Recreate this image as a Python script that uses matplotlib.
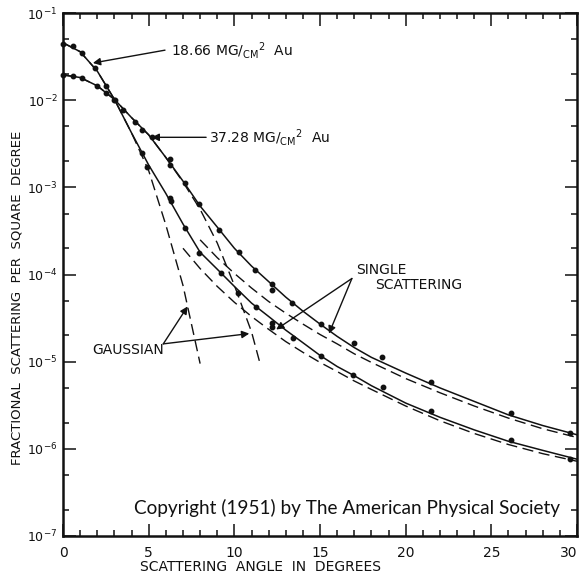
import matplotlib

matplotlib.use("Agg")
import matplotlib.pyplot as plt
from matplotlib.ticker import FixedLocator, FixedFormatter, NullFormatter

# ---- data (angle in degrees, fraction per sq. degree)
# solid curves: measured multiple-scattering distributions
angle_solid = [0, 1, 2, 3, 4, 5, 6, 7, 8, 9, 10, 11, 12, 13, 14, 15, 16, 17, 18,
               20, 22, 24, 26, 28, 30]
thin_solid = [4.55e-2, 3.6e-2, 2.15e-2, 1.02e-2, 4.2e-3, 1.8e-3, 8.5e-4, 3.8e-4,
              1.8e-4, 1.15e-4, 7.3e-5, 4.7e-5, 3.3e-5, 2.3e-5, 1.65e-5, 1.18e-5,
              8.8e-6, 6.9e-6, 5.3e-6, 3.35e-6, 2.3e-6, 1.65e-6, 1.22e-6, 9.6e-7,
              7.6e-7]
thick_solid = [1.95e-2, 1.82e-2, 1.46e-2, 1.02e-2, 6.3e-3, 4.0e-3, 2.2e-3, 1.18e-3,
               6.1e-4, 3.5e-4, 2.0e-4, 1.25e-4, 8.3e-5, 5.5e-5, 3.8e-5, 2.7e-5,
               1.95e-5, 1.45e-5, 1.12e-5, 7.4e-6, 5.0e-6, 3.5e-6, 2.45e-6,
               1.85e-6, 1.45e-6]

# dashed: gaussian cores
angle_gauss_thin = [0, 1, 2, 3, 4, 5, 6, 7, 8]
gauss_thin = [4.55e-2, 3.6e-2, 2.15e-2, 1.02e-2, 4.2e-3, 1.55e-3, 3.7e-4, 7.5e-5,
              9.5e-6]
angle_gauss_thick = [0, 1, 2, 3, 4, 5, 6, 7, 8, 9, 10, 11, 11.5]
gauss_thick = [1.95e-2, 1.82e-2, 1.46e-2, 1.02e-2, 6.3e-3, 4.0e-3, 2.2e-3, 1.15e-3,
               5.6e-4, 2.3e-4, 7.5e-5, 2.2e-5, 9.5e-6]

# dashed: single scattering tails
angle_single_thin = [7, 8, 9, 10, 11, 12, 13, 14, 15, 16, 17, 18, 20, 22, 24, 26,
                     28, 30]
single_thin = [2.0e-4, 1.17e-4, 7.3e-5, 4.8e-5, 3.3e-5, 2.35e-5, 1.7e-5, 1.28e-5,
               9.8e-6, 7.7e-6, 6.0e-6, 4.8e-6, 3.1e-6, 2.1e-6, 1.5e-6, 1.12e-6,
               8.8e-7, 7.2e-7]
angle_single_thick = [8, 9, 10, 11, 12, 13, 14, 15, 16, 17, 18, 20, 22, 24, 26,
                      28, 30]
single_thick = [2.5e-4, 1.56e-4, 1.03e-4, 7.0e-5, 4.9e-5, 3.6e-5, 2.7e-5, 2.05e-5,
                1.6e-5, 1.23e-5, 9.8e-6, 6.4e-6, 4.4e-6, 3.1e-6, 2.25e-6, 1.7e-6,
                1.35e-6]

# measured points
pts_thin_x = [0, 0.58, 1.1, 1.86, 2.5, 3.0, 4.59, 4.88, 6.22, 6.3, 7.09, 7.91,
              9.24, 10.23, 11.28, 12.21, 12.21, 13.43, 15.06, 16.92, 18.66, 21.5,
              26.16, 29.6]
pts_thin_y = [4.4e-2, 4.19e-2, 3.48e-2, 2.34e-2, 1.46e-2, 1.0e-2, 2.49e-3, 1.72e-3,
              7.6e-4, 6.9e-4, 3.44e-4, 1.78e-4, 1.05e-4, 6.2e-5, 4.2e-5, 2.81e-5,
              2.47e-5, 1.89e-5, 1.15e-5, 6.95e-6, 5.1e-6, 2.69e-6, 1.25e-6, 7.6e-7]
pts_thick_x = [0, 0.58, 1.1, 1.98, 2.5, 3.02, 3.49, 4.19, 4.59, 5.17, 6.22, 6.22,
               7.09, 7.91, 9.13, 10.29, 11.22, 12.21, 12.21, 13.37, 15.06, 16.98,
               18.6, 21.5, 26.16, 29.6]
pts_thick_y = [1.95e-2, 1.9e-2, 1.8e-2, 1.46e-2, 1.21e-2, 1.0e-2, 7.7e-3, 5.6e-3,
               4.57e-3, 3.8e-3, 2.13e-3, 1.82e-3, 1.13e-3, 6.5e-4, 3.27e-4, 1.83e-4,
               1.14e-4, 7.7e-5, 6.7e-5, 4.76e-5, 2.67e-5, 1.62e-5, 1.12e-5, 5.9e-6,
               2.55e-6, 1.51e-6]

x_ticks = [0, 5, 10, 15, 20, 25, 30]
y_ticks = [1e-7, 1e-6, 1e-5, 1e-4, 1e-3, 1e-2, 1e-1]
y_tick_labels = [r"$10^{-7}$", r"$10^{-6}$", r"$10^{-5}$", r"$10^{-4}$",
                 r"$10^{-3}$", r"$10^{-2}$", r"$10^{-1}$"]

ink = "#111111"
dash = (8, 4)

fig = plt.figure(figsize=(5.84, 5.79), dpi=100)
ax = fig.add_axes([0.108, 0.0743, 0.880, 0.9032])
ax.set_yscale("log")
ax.set_xlim(0, 30)
ax.set_ylim(1e-7, 1e-1)

ax.plot(angle_solid, thin_solid, color=ink, lw=1.1)
ax.plot(angle_solid, thick_solid, color=ink, lw=1.1)
ax.plot(angle_gauss_thin, gauss_thin, color=ink, lw=1.0, dashes=dash)
ax.plot(angle_gauss_thick, gauss_thick, color=ink, lw=1.0, dashes=dash)
ax.plot(angle_single_thin, single_thin, color=ink, lw=1.0, dashes=dash)
ax.plot(angle_single_thick, single_thick, color=ink, lw=1.0, dashes=dash)
ax.plot(pts_thin_x, pts_thin_y, "o", color=ink, ms=3.2, clip_on=False)
ax.plot(pts_thick_x, pts_thick_y, "o", color=ink, ms=3.2, clip_on=False)

# ticks
ax.xaxis.set_major_locator(FixedLocator(x_ticks))
ax.xaxis.set_minor_locator(FixedLocator(range(0, 31)))
ax.yaxis.set_major_locator(FixedLocator(y_ticks))
ax.yaxis.set_major_formatter(FixedFormatter(y_tick_labels))
minor_y = [m * 10.0 ** e for e in range(-7, -1) for m in (2, 5)]
ax.yaxis.set_minor_locator(FixedLocator(minor_y))
ax.yaxis.set_minor_formatter(NullFormatter())
ax.tick_params(which="both", direction="in", top=True, right=True,
               width=1.1, color=ink, labelcolor=ink, labelsize=10)
ax.tick_params(which="major", length=9)
ax.tick_params(which="minor", length=4)
ax.tick_params(axis="x", pad=7)
ax.tick_params(axis="y", pad=4, labelsize=9)
for sp in ax.spines.values():
    sp.set_linewidth(1.8)
    sp.set_color(ink)

# last x label sits at the figure edge; pull it inside
fig.canvas.draw()
ax.get_xticklabels()[-1].set_horizontalalignment("right")

ax.set_xlabel("SCATTERING  ANGLE  IN  DEGREES", fontsize=10, color=ink)
ax.set_ylabel("FRACTIONAL  SCATTERING  PER  SQUARE  DEGREE", fontsize=9.5,
              color=ink)
ax.xaxis.set_label_coords(0.385, -0.046)
ax.yaxis.set_label_coords(-0.077, 0.455)

# labels and arrows
arrow = dict(arrowstyle="-|>", color=ink, lw=1.0, mutation_scale=11,
             shrinkA=0, shrinkB=0)
ax.text(6.3, 3.7e-2, r"18.66 MG/$_{\mathrm{CM}}$$^{2}$  Au", fontsize=10,
        va="center", ha="left", color=ink)
ax.annotate("", xy=(1.74, 2.67e-2), xytext=(5.95, 3.75e-2), arrowprops=arrow)
ax.text(8.5, 3.7e-3, r"37.28 MG/$_{\mathrm{CM}}$$^{2}$  Au", fontsize=10,
        va="center", ha="left", color=ink)
ax.annotate("", xy=(5.17, 3.75e-3), xytext=(8.35, 3.75e-3), arrowprops=arrow)

ax.text(17.1, 1.12e-4, "SINGLE", fontsize=10, va="center", ha="left", color=ink)
ax.text(18.2, 7.6e-5, "SCATTERING", fontsize=10, va="center", ha="left",
        color=ink)
ax.annotate("", xy=(12.44, 2.34e-5), xytext=(16.86, 9.0e-5), arrowprops=arrow)
ax.annotate("", xy=(15.52, 2.1e-5), xytext=(16.86, 9.0e-5), arrowprops=arrow)

ax.text(1.7, 1.35e-5, "GAUSSIAN", fontsize=10, va="center", ha="left", color=ink)
ax.annotate("", xy=(7.27, 4.3e-5), xytext=(5.85, 1.6e-5), arrowprops=arrow)
ax.annotate("", xy=(10.87, 2.1e-5), xytext=(5.85, 1.6e-5), arrowprops=arrow)

ax.text(0.552, 0.0535, "Copyright (1951) by The American Physical Society",
        transform=ax.transAxes, fontsize=13.7, family="Lato", ha="center",
        va="center", color=ink)

fig.savefig("out.png", dpi=100)
